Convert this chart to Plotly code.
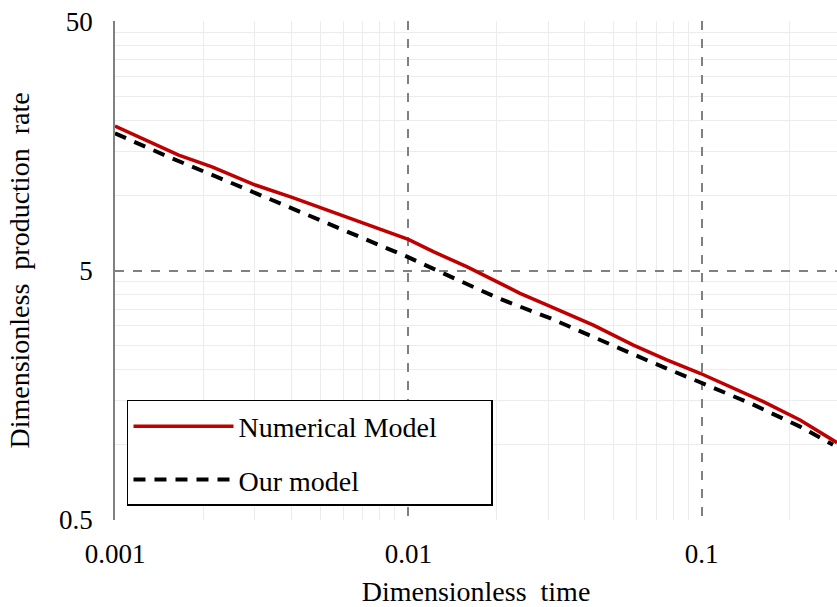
import numpy as np
import plotly.graph_objects as go

# Numerical reservoir simulation: dimensionless time vs production rate
t_numerical = [0.001, 0.001649, 0.002142, 0.003009, 0.004014, 0.006098, 0.01, 0.01217,
               0.01581, 0.02002, 0.02403, 0.02964, 0.04274, 0.0585, 0.07603, 0.09877,
               0.1283, 0.1623, 0.2165, 0.2894]
q_numerical = [18.98, 14.52, 13.03, 11.01, 9.83, 8.21, 6.66, 5.95,
               5.18, 4.51, 4.05, 3.64, 3.02, 2.51, 2.19, 1.936,
               1.686, 1.490, 1.258, 1.020]

# Analytical model
t_model = [0.001, 0.001564, 0.002286, 0.003385, 0.005079, 0.007621, 0.009899, 0.01352,
           0.02027, 0.03042, 0.04504, 0.06671, 0.09877, 0.1482, 0.2165, 0.2805]
q_model = [17.74, 14.08, 11.71, 9.65, 7.85, 6.43, 5.68, 4.80,
           3.87, 3.22, 2.63, 2.156, 1.782, 1.458, 1.183, 1.0]

x_major = [0.001, 0.01, 0.1]
x_major_text = ["0.001", "0.01", "0.1"]
x_minor = [m * d for d in (0.001, 0.01, 0.1) for m in range(2, 10)]
y_major = [0.5, 5, 50]
y_major_text = ["0.5", "5", "50"]
y_minor = [0.5 * k * d for d in (1, 10) for k in range(2, 10)]

x_max = 0.2894
FONT = "Liberation Serif, Times New Roman, serif"
PAD = "\u00a0" * 7  # widens the legend box on the right

fig = go.Figure()
fig.add_trace(go.Scatter(
    x=t_numerical, y=q_numerical, mode="lines", name="Numerical Model" + PAD,
    legendgroup="a", line=dict(color="#C00000", width=3.5)))
fig.add_trace(go.Scatter(
    x=t_model, y=q_model, mode="lines", name="Our model",
    legendgroup="b", line=dict(color="#000000", width=4, dash="12px,9px")))

fig.update_layout(
    width=837, height=607,
    margin=dict(l=115, r=0, t=21, b=87),
    paper_bgcolor="white", plot_bgcolor="white",
    font=dict(family=FONT, size=27, color="#000000"),
    showlegend=True,
    legend=dict(
        x=0.0166, y=0.2405, xanchor="left", yanchor="top",
        bgcolor="white", bordercolor="#000000", borderwidth=1.5,
        font=dict(family=FONT, size=28), itemwidth=100,
        tracegroupgap=14,
    ),
)

grid_minor = dict(tickmode="array", showgrid=True, gridcolor="#ececec",
                  gridwidth=1, griddash="solid", ticks="")

fig.update_xaxes(
    type="log", range=[-3, np.log10(x_max)],
    tickmode="array", tickvals=x_major, ticktext=x_major_text,
    ticks="", ticklabelstandoff=15, showline=False, zeroline=False,
    showgrid=True, gridcolor="#808080", gridwidth=1.5, griddash="dash",
    minor=dict(tickvals=x_minor, **grid_minor),
    tickfont=dict(family=FONT, size=27),
    title=dict(text="Dimensionless  time", font=dict(family=FONT, size=28), standoff=13),
)
fig.update_yaxes(
    type="log", range=[np.log10(0.5) - 0.0005, np.log10(50) + 0.0005],
    tickmode="array", tickvals=y_major, ticktext=y_major_text,
    ticks="", ticklabelstandoff=15, showline=True, linecolor="#808080", linewidth=1.5,
    zeroline=False,
    showgrid=True, gridcolor="#808080", gridwidth=1.5, griddash="dash",
    minor=dict(tickvals=y_minor, **grid_minor),
    tickfont=dict(family=FONT, size=27),
    title=dict(text="Dimensionless  production  rate", font=dict(family=FONT, size=28), standoff=21),
)

fig.write_html("out.html")
